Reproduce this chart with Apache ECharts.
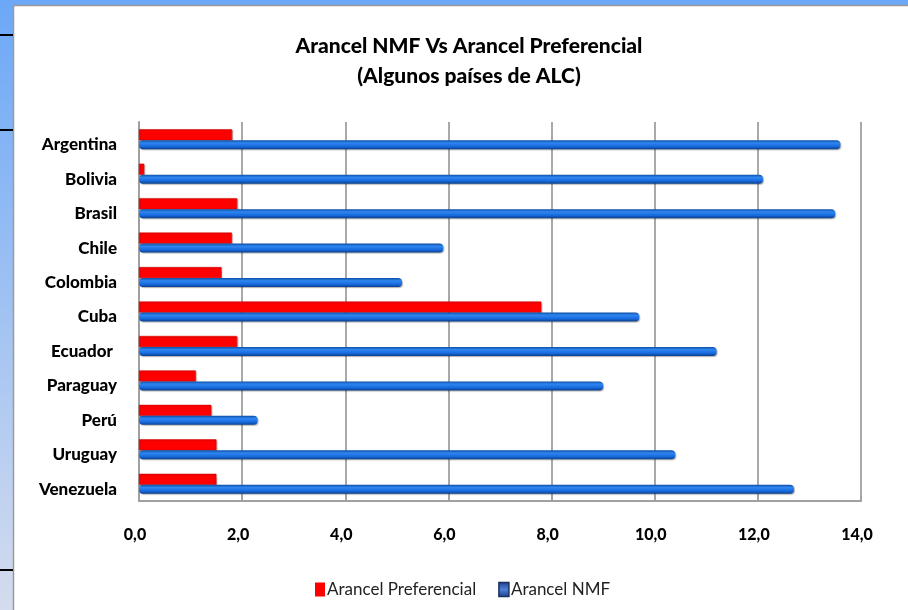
<!DOCTYPE html>
<html>
<head>
<meta charset="utf-8">
<script src="https://cdn.jsdelivr.net/npm/echarts@6/dist/echarts.min.js"></script>
<style>
  html, body { margin: 0; padding: 0; background: #fff; }
  #myEchart { width: 908px; height: 610px; }
</style>
</head>
<body>
<div id="myEchart"></div>
<script>
// datos
var paises = ['Argentina', 'Bolivia', 'Brasil', 'Chile', 'Colombia', 'Cuba', 'Ecuador ', 'Paraguay', 'Perú', 'Uruguay', 'Venezuela'];
var arancelPreferencial = [1.8, 0.1, 1.9, 1.8, 1.6, 7.8, 1.9, 1.1, 1.4, 1.5, 1.5];
var arancelNMF = [13.6, 12.1, 13.5, 5.9, 5.1, 9.7, 11.2, 9.0, 2.3, 10.4, 12.7];
var ticksX = [0, 2, 4, 6, 8, 10, 12, 14];

var chart = echarts.init(document.getElementById('myEchart'));

var azul = new echarts.graphic.LinearGradient(0, 0, 0, 1, [
  {offset: 0, color: '#0b4ea6'},
  {offset: 0.3, color: '#2f86f0'},
  {offset: 0.7, color: '#1769dc'},
  {offset: 1, color: '#0a3f8c'}
]);

var option = {
  backgroundColor: '#fff',
  textStyle: {fontFamily: 'Lato'},
  graphic: [
    // fondo azul de la hoja
    {
      type: 'rect', z: -10, silent: true,
      shape: {x: 0, y: 0, width: 908, height: 610},
      style: {
        fill: new echarts.graphic.LinearGradient(0, 0, 0, 1, [
          {offset: 0, color: '#6ca8f7'},
          {offset: 1, color: '#d4dcee'}
        ])
      }
    },
    {
      type: 'rect', z: -9, silent: true,
      shape: {x: 13.5, y: 5.5, width: 900, height: 610},
      style: {fill: '#fff', stroke: '#9a9a9a', lineWidth: 1.5}
    },
    {type: 'line', z: -8, silent: true, shape: {x1: 0, y1: 35, x2: 13, y2: 35}, style: {stroke: '#000', lineWidth: 2}},
    {type: 'line', z: -8, silent: true, shape: {x1: 0, y1: 130, x2: 13, y2: 130}, style: {stroke: '#000', lineWidth: 2}},
    {type: 'line', z: -8, silent: true, shape: {x1: 0, y1: 570, x2: 13, y2: 570}, style: {stroke: '#000', lineWidth: 2}}
  ],
  title: {
    text: 'Arancel NMF Vs Arancel Preferencial\n(Algunos países de ALC)',
    left: 464,
    top: 26,
    textAlign: 'center',
    textStyle: {
      fontFamily: 'Lato',
      fontSize: 21,
      fontWeight: 900,
      color: '#000',
      lineHeight: 30
    }
  },
  legend: {
    left: 310,
    top: 576,
    icon: 'rect',
    itemWidth: 10,
    itemHeight: 14,
    itemGap: 22,
    textStyle: {fontFamily: 'Lato', fontSize: 17, color: '#222', padding: [0, 0, 0, -3]},
    data: [
      {name: 'Arancel Preferencial', itemStyle: {color: '#ff0000', borderWidth: 0}},
      {name: 'Arancel NMF', itemStyle: {
        color: new echarts.graphic.LinearGradient(0, 0, 0, 1, [
          {offset: 0, color: '#1d3f8a'},
          {offset: 0.5, color: '#4c7fd6'},
          {offset: 1, color: '#1d3f8a'}
        ]),
        borderColor: '#1a2f5e', borderWidth: 1.5
      }}
    ]
  },
  grid: {
    left: 139,
    right: 47,
    top: 122,
    bottom: 109
  },
  xAxis: {
    type: 'value',
    min: 0,
    max: 14,
    interval: 2,
    axisLine: {show: true, lineStyle: {color: '#a0a0a0', width: 2}},
    axisTick: {show: true, inside: true, length: 5, lineStyle: {color: '#a0a0a0', width: 1.5}},
    splitLine: {show: true, lineStyle: {color: '#8c8c8c', width: 1.5}},
    axisLabel: {
      margin: 26,
      padding: [0, 8, 0, 0],
      fontFamily: 'Lato',
      fontSize: 16,
      fontWeight: 900,
      color: '#000',
      formatter: function (v) {
        return ticksX.indexOf(v) > -1 ? v.toFixed(1).replace('.', ',') : '';
      }
    }
  },
  yAxis: {
    type: 'category',
    inverse: true,
    data: paises,
    axisLine: {show: true, lineStyle: {color: '#a0a0a0', width: 2}},
    axisTick: {show: false},
    splitLine: {show: false},
    axisLabel: {
      margin: 22,
      formatter: function (v) {
        return '{p|' + v + '}';
      },
      rich: {
        p: {
          fontFamily: 'Lato',
          fontSize: 17,
          fontWeight: 900,
          color: '#000',
          padding: [11, 0, 0, 0]
        }
      }
    }
  },
  series: [
    {
      name: 'Arancel Preferencial',
      type: 'bar',
      barWidth: 11,
      barGap: '0%',
      itemStyle: {
        color: '#ff0000',
        borderColor: '#c40000',
        borderWidth: 0.5,
        shadowColor: 'rgba(120,0,0,0.35)',
        shadowOffsetX: 1,
        shadowOffsetY: 1,
        shadowBlur: 1
      },
      data: arancelPreferencial
    },
    {
      name: 'Arancel NMF',
      type: 'bar',
      barWidth: 9,
      barGap: '0%',
      itemStyle: {
        color: azul,
        borderRadius: [4, 4, 4, 4],
        shadowColor: 'rgba(0,0,0,0.3)',
        shadowOffsetX: 1,
        shadowOffsetY: 1,
        shadowBlur: 1
      },
      data: arancelNMF
    }
  ]
};

chart.setOption(option);
</script>
</body>
</html>
